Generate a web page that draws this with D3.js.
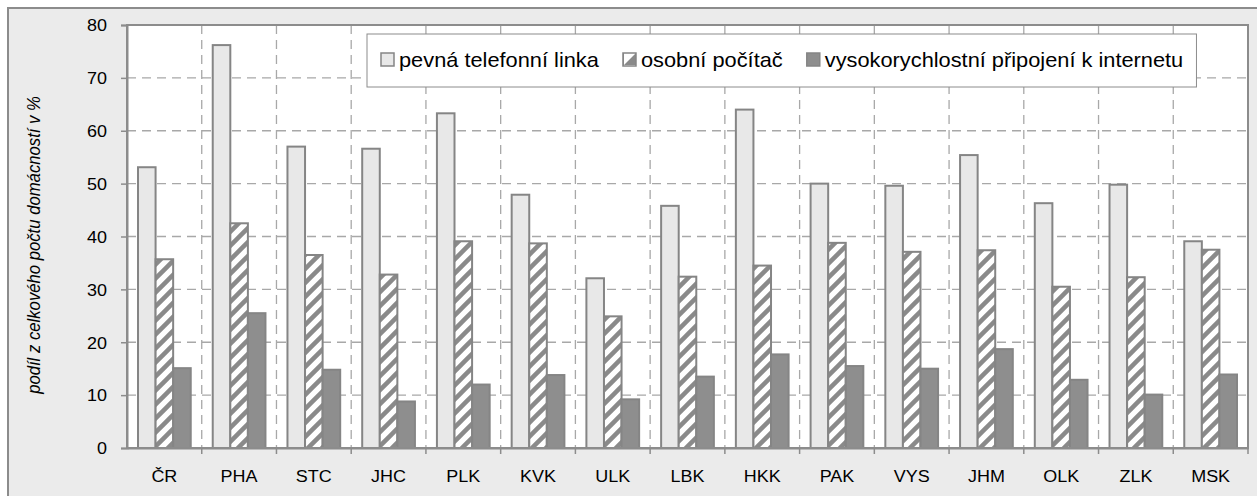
<!DOCTYPE html>
<html>
<head>
<meta charset="utf-8">
<script src="https://cdn.jsdelivr.net/npm/d3@7"></script>
<style>
html,body{margin:0;padding:0;background:#fff;}
svg{display:block;font-family:"Liberation Sans",Arial,sans-serif;}
</style>
</head>
<body>
<svg id="chart" width="1257" height="496"></svg>
<script>
const categories = ["ČR","PHA","STC","JHC","PLK","KVK","ULK","LBK","HKK","PAK","VYS","JHM","OLK","ZLK","MSK"];
const seriesNames = ["pevná telefonní linka","osobní počítač","vysokorychlostní připojení k internetu"];
const fixedLine = [53.1,76.2,57.0,56.6,63.3,47.9,32.1,45.8,64.0,50.0,49.6,55.4,46.3,49.8,39.1];
const personalComputer = [35.7,42.5,36.5,32.8,39.1,38.7,24.9,32.4,34.5,38.8,37.1,37.4,30.5,32.3,37.5];
const broadband = [15.1,25.5,14.8,8.8,12.0,13.8,9.2,13.5,17.7,15.5,15.0,18.7,12.9,10.1,13.9];
const yTicks = [0,10,20,30,40,50,60,70,80];
const yTitle = "podíl z celkového počtu domácností v %";

const seriesValues = [fixedLine, personalComputer, broadband];

const svg = d3.select("#chart");
const W = 1257, H = 496;
const plot = {left:127, top:25, right:1248, bottom:448};
const SX = 1.09; // horizontal text stretch

function stretch(sel, sx){
  sel.each(function(){
    const t = d3.select(this);
    const xv = +t.attr("x") || 0;
    const yv = +t.attr("y") || 0;
    t.attr("x",0).attr("y",0).attr("transform",`translate(${xv},${yv}) scale(${sx},1)`);
  });
}

// defs: hatch pattern
const defs = svg.append("defs");
const P = 14;
const pat = defs.append("pattern").attr("id","hatch").attr("patternUnits","userSpaceOnUse")
  .attr("width",P).attr("height",P);
pat.append("rect").attr("width",P).attr("height",P).attr("fill","#ffffff");
pat.append("path").attr("d",`M0,${P} L${P},0 M${-P/2},${P/2} L${P/2},${-P/2} M${P/2},${1.5*P} L${1.5*P},${P/2}`)
  .attr("stroke","#8a8a8a").attr("stroke-width",4.5);

const fills = ["#e8e8e8","url(#hatch)","#8e8e8e"];
const legendFills = ["#e8e8e8","url(#hatchL)","#8e8e8e"];
const patL = defs.append("pattern").attr("id","hatchL").attr("patternUnits","userSpaceOnUse")
  .attr("width",13).attr("height",13);
patL.append("rect").attr("width",13).attr("height",13).attr("fill","#ffffff");
patL.append("path").attr("d","M0,13 L13,0 L13,13 Z").attr("fill","#8a8a8a");

// outer chart area
svg.append("rect").attr("x",8).attr("y",8).attr("width",W+20).attr("height",H+20)
  .attr("fill","#ebebeb").attr("stroke","#8c8c8c").attr("stroke-width",2);

// plot area
svg.append("rect").attr("x",plot.left).attr("y",plot.top)
  .attr("width",plot.right-plot.left).attr("height",plot.bottom-plot.top).attr("fill","#ffffff");

const x0 = d3.scaleBand().domain(categories).range([plot.left,plot.right]).paddingInner(0).paddingOuter(0);
const groupPad = 11;
const x1 = d3.scaleBand().domain(d3.range(seriesNames.length))
  .range([groupPad, x0.bandwidth()-groupPad]).padding(0);
const y = d3.scaleLinear().domain([0,80]).range([plot.bottom,plot.top]);

// horizontal grid
svg.append("g").selectAll("line").data(yTicks.filter(d=>d>0 && d<80)).join("line")
  .attr("x1",plot.left).attr("x2",plot.right).attr("y1",d=>y(d)).attr("y2",d=>y(d))
  .attr("stroke","#a8a8a8").attr("stroke-width",1.3).attr("stroke-dasharray","9,6");
// vertical grid at category boundaries
svg.append("g").selectAll("line").data(categories.slice(1)).join("line")
  .attr("x1",d=>x0(d)).attr("x2",d=>x0(d)).attr("y1",plot.top).attr("y2",plot.bottom)
  .attr("stroke","#a8a8a8").attr("stroke-width",1.3).attr("stroke-dasharray","9,6");

// bars
const gBars = svg.append("g");
categories.forEach((c,i)=>{
  seriesValues.forEach((vals,s)=>{
    gBars.append("rect")
      .attr("x",x0(c)+x1(s)).attr("y",y(vals[i]))
      .attr("width",x1.bandwidth()).attr("height",y(0)-y(vals[i]))
      .attr("fill",fills[s]).attr("stroke","#858585").attr("stroke-width",2);
  });
});

// plot border
svg.append("rect").attr("x",plot.left).attr("y",plot.top)
  .attr("width",plot.right-plot.left).attr("height",plot.bottom-plot.top)
  .attr("fill","none").attr("stroke","#8c8c8c").attr("stroke-width",2);

// y axis
const yAxis = d3.axisLeft(y).tickValues(yTicks).tickSize(6).tickPadding(14).tickFormat(d3.format("d"));
const gy = svg.append("g").attr("transform",`translate(${plot.left},0)`).call(yAxis);
gy.select(".domain").attr("stroke","#8c8c8c").attr("stroke-width",2);
gy.selectAll(".tick line").attr("stroke","#8c8c8c").attr("stroke-width",1.5);
gy.selectAll(".tick text").attr("font-size",16.5).attr("fill","#000")
  .attr("font-family","'Liberation Sans',Arial,sans-serif").attr("dy","0.35em");
stretch(gy.selectAll(".tick text"), SX);
gy.selectAll(".tick text").attr("dy","0.35em");

// x axis
const xAxis = d3.axisBottom(x0).tickSize(0).tickPadding(22);
const gx = svg.append("g").attr("transform",`translate(0,${plot.bottom})`).call(xAxis);
gx.select(".domain").attr("stroke","#8c8c8c").attr("stroke-width",2);
gx.selectAll(".tick text").attr("font-size",16.5).attr("fill","#000")
  .attr("font-family","'Liberation Sans',Arial,sans-serif");
stretch(gx.selectAll(".tick text"), SX);
gx.selectAll(".tick text").attr("dy","0.71em");
// x tick marks at category boundaries
gx.append("g").selectAll("line").data(categories.slice(1).concat(["__end"])).join("line")
  .attr("x1",d=>d==="__end"?plot.right:x0(d)).attr("x2",d=>d==="__end"?plot.right:x0(d))
  .attr("y1",0).attr("y2",6).attr("stroke","#8c8c8c").attr("stroke-width",1.5);

// y title
svg.append("text").attr("transform",`translate(40,245) rotate(-90) scale(1,${SX})`)
  .attr("text-anchor","middle").attr("font-size",16.7).attr("font-style","italic")
  .attr("fill","#000").text(yTitle);

// legend
const lg = svg.append("g");
const lgBox = lg.append("rect").attr("x",367).attr("y",34).attr("height",53)
  .attr("fill","#ffffff").attr("stroke","#8c8c8c").attr("stroke-width",1);
let lx = 381;
seriesNames.forEach((name,s)=>{
  lg.append("rect").attr("x",lx).attr("y",53).attr("width",13).attr("height",13)
    .attr("fill",legendFills[s]).attr("stroke","#858585").attr("stroke-width",1.5);
  const t = lg.append("text").attr("x",lx+18).attr("y",67).attr("font-size",20).attr("fill","#000").text(name);
  const len = t.node().getComputedTextLength()*SX;
  stretch(t, SX);
  lx = lx + 18 + len + 24;
});
lgBox.attr("width", lx - 24 + 13 - 367);
</script>
</body>
</html>
